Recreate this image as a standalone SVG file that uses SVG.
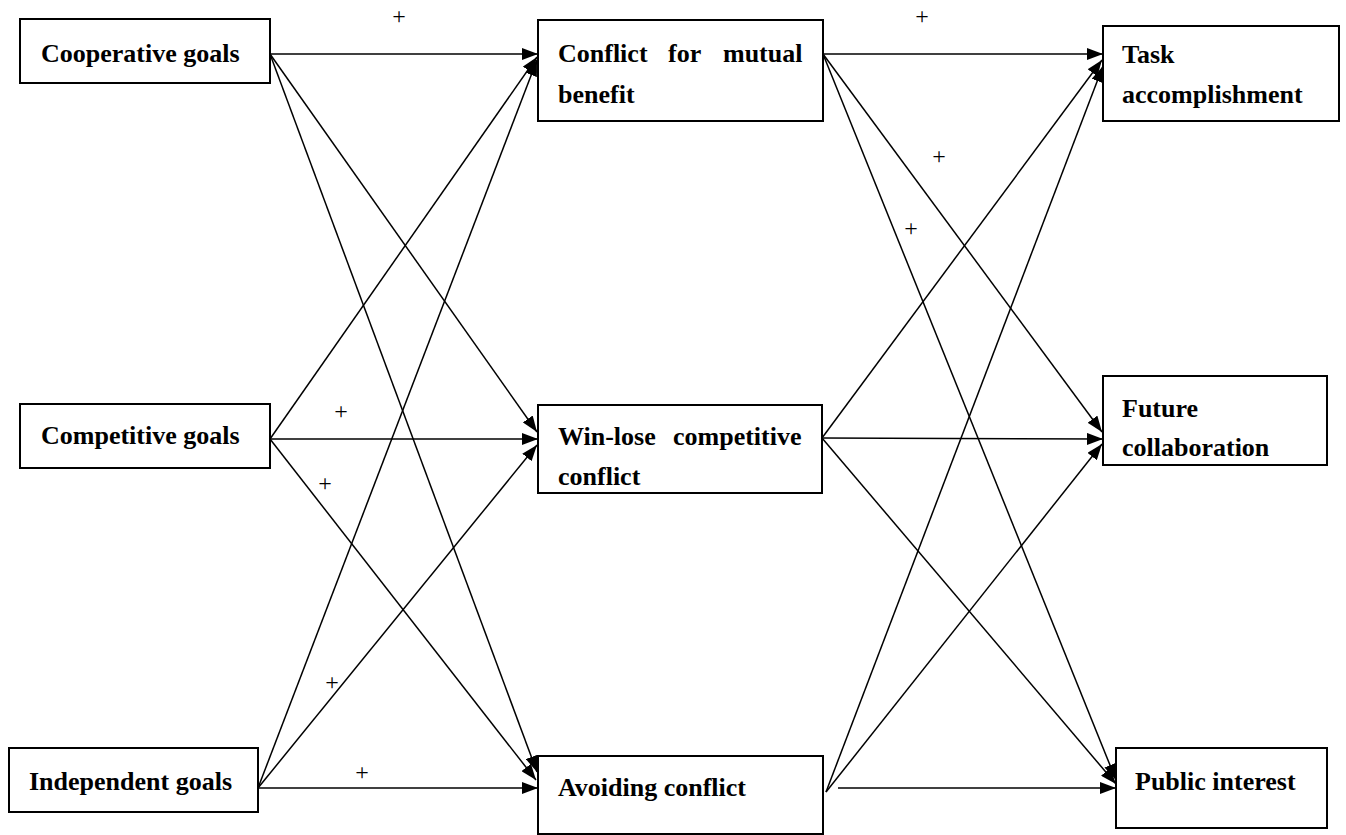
<svg xmlns="http://www.w3.org/2000/svg" width="1346" height="835" viewBox="0 0 1346 835">
<defs>
<marker id="arr" viewBox="0 0 16 12" refX="16" refY="6" markerWidth="16" markerHeight="12" markerUnits="userSpaceOnUse" orient="auto">
<path d="M0,0 L16,6 L0,12 z" fill="#000"/>
</marker>
<style>
.box{fill:#fff;stroke:#000;stroke-width:2}
.lbl{font-family:"Liberation Serif","Times New Roman",serif;font-weight:bold;font-size:26px;fill:#000}
.plus{font-family:"Liberation Serif","Times New Roman",serif;font-size:24px;fill:#000;text-anchor:middle}
.edge{stroke:#000;stroke-width:1.5;fill:none;marker-end:url(#arr)}
</style>
</defs>
<rect width="1346" height="835" fill="#fff"/>
<g id="connectors">
<line class="edge" x1="270" y1="54" x2="538" y2="54"/>
<line class="edge" x1="270" y1="54" x2="537" y2="432"/>
<line class="edge" x1="270" y1="54" x2="537" y2="772"/>
<line class="edge" x1="270" y1="439" x2="537" y2="57"/>
<line class="edge" x1="270" y1="439" x2="538" y2="439"/>
<line class="edge" x1="270" y1="439" x2="536" y2="780"/>
<line class="edge" x1="258" y1="788" x2="537" y2="60"/>
<line class="edge" x1="258" y1="788" x2="537" y2="445"/>
<line class="edge" x1="258" y1="788" x2="538" y2="788"/>
<line class="edge" x1="823" y1="54" x2="1103" y2="54"/>
<line class="edge" x1="823" y1="54" x2="1102" y2="432"/>
<line class="edge" x1="823" y1="54" x2="1116" y2="780"/>
<line class="edge" x1="822" y1="438" x2="1102" y2="60"/>
<line class="edge" x1="822" y1="438" x2="1103" y2="439"/>
<line class="edge" x1="822" y1="438" x2="1116" y2="784"/>
<line class="edge" x1="826" y1="792" x2="1103" y2="66"/>
<line class="edge" x1="826" y1="792" x2="1102" y2="444"/>
<line class="edge" x1="838" y1="788" x2="1116" y2="788"/>
</g>
<g id="plus-signs">
<text class="plus" x="399" y="24">+</text>
<text class="plus" x="922" y="24">+</text>
<text class="plus" x="341" y="419">+</text>
<text class="plus" x="325" y="491">+</text>
<text class="plus" x="332" y="690">+</text>
<text class="plus" x="362" y="780">+</text>
<text class="plus" x="939" y="164">+</text>
<text class="plus" x="911" y="236">+</text>
</g>
<g id="cooperative-goals">
<rect class="box" x="20" y="19" width="250" height="64"/>
<text class="lbl" x="41" y="62">Cooperative goals</text>
</g>
<g id="competitive-goals">
<rect class="box" x="20" y="404" width="250" height="64"/>
<text class="lbl" x="41" y="444">Competitive goals</text>
</g>
<g id="independent-goals">
<rect class="box" x="9" y="748" width="249" height="64"/>
<text class="lbl" x="29" y="790">Independent goals</text>
</g>
<g id="conflict-mutual-benefit">
<rect class="box" x="538" y="20" width="285" height="101"/>
<text class="lbl" y="62"><tspan x="558">Conflict</tspan><tspan x="668">for</tspan><tspan x="723">mutual</tspan></text>
<text class="lbl" x="558" y="103">benefit</text>
</g>
<g id="win-lose-conflict">
<rect class="box" x="538" y="405" width="284" height="88"/>
<text class="lbl" y="445"><tspan x="558">Win-lose</tspan><tspan x="673">competitive</tspan></text>
<text class="lbl" x="558" y="485">conflict</text>
</g>
<g id="avoiding-conflict">
<rect class="box" x="538" y="756" width="285" height="78"/>
<text class="lbl" x="558" y="796">Avoiding conflict</text>
</g>
<g id="task-accomplishment">
<rect class="box" x="1103" y="26" width="236" height="95"/>
<text class="lbl" x="1122" y="63">Task</text>
<text class="lbl" x="1122" y="103">accomplishment</text>
</g>
<g id="future-collaboration">
<rect class="box" x="1103" y="376" width="224" height="89"/>
<text class="lbl" x="1122" y="417">Future</text>
<text class="lbl" x="1122" y="456">collaboration</text>
</g>
<g id="public-interest">
<rect class="box" x="1116" y="748" width="211" height="80"/>
<text class="lbl" x="1135" y="790">Public interest</text>
</g>
</svg>
